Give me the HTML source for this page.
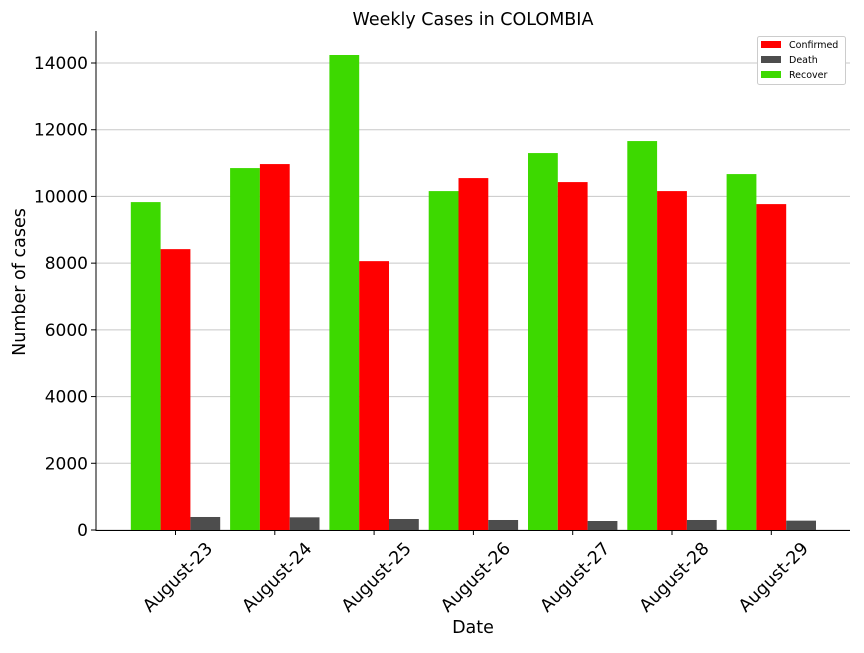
<!DOCTYPE html>
<html><head><meta charset="utf-8"><style>
body{margin:0;background:#fff}
svg text{font-family:"DejaVu Sans","Liberation Sans",sans-serif}
</style></head><body>
<svg id="chart" width="864" height="648" xmlns="http://www.w3.org/2000/svg">
<rect width="864" height="648" fill="#fff"/>
<g id="grid"></g><g id="bars"></g><g id="axes"></g>
<text x="473" y="25" text-anchor="middle" font-size="17.5">Weekly Cases in COLOMBIA</text>
<text x="473" y="633" text-anchor="middle" font-size="17.5">Date</text>
<text transform="translate(25,282) rotate(-90)" text-anchor="middle" font-size="17.5">Number of cases</text>
<g>
<rect x="757.5" y="36.5" width="88" height="48" rx="2" fill="#fff" stroke="#ccc"/>
<rect x="761" y="41" width="20" height="7" fill="#ff0000"/>
<text x="789" y="48" font-size="9.5">Confirmed</text>
<rect x="761" y="56" width="20" height="7" fill="#4d4d4d"/>
<text x="789" y="63" font-size="9.5">Death</text>
<rect x="761" y="71" width="20" height="7" fill="#3dd900"/>
<text x="789" y="78" font-size="9.5">Recover</text>
</g>
</svg>
<script>
const categories=["August-23","August-24","August-25","August-26","August-27","August-28","August-29"];
const recovered=[9830,10850,14240,10160,11300,11660,10670];
const confirmed=[8420,10970,8060,10550,10430,10160,9770];
const deaths=[390,380,330,300,270,300,280];
const yTicks=[0,2000,4000,6000,8000,10000,12000,14000];
const NS="http://www.w3.org/2000/svg";
const y0=530, yScale=(530-63)/14000;
const y=v=>y0-v*yScale;
const x0=175.5, step=99.3, bw=29.8;
const xc=i=>x0+i*step;
function mk(tag,attrs,parent){const e=document.createElementNS(NS,tag);for(const k in attrs)e.setAttribute(k,attrs[k]);parent.appendChild(e);return e;}
const grid=document.getElementById('grid'),bars=document.getElementById('bars'),axes=document.getElementById('axes');
yTicks.forEach(t=>{
 const l=mk('line',{x1:96,x2:850,y1:y(t),y2:y(t),stroke:'#c8c8c8','stroke-width':1},grid);
 
 
 mk('line',{x1:91,x2:96,y1:y(t),y2:y(t),stroke:'#000'},axes);
 const tx=mk('text',{x:88,y:y(t)+6,'text-anchor':'end','font-size':17},axes);
 tx.textContent=t;
 
 
});
const series=[[recovered,'#3dd900',-1,'recover'],[confirmed,'#ff0000',0,'confirmed'],[deaths,'#4d4d4d',1,'death']];
categories.forEach((c,i)=>{
 series.forEach(([arr,col,off,nm])=>{
  const r=mk('rect',{x:xc(i)+off*bw-bw/2,y:y(arr[i]),width:bw,height:arr[i]*yScale,fill:col},bars);
  
  
 });
 mk('line',{x1:xc(i),x2:xc(i),y1:530,y2:535,stroke:'#000'},axes);
 const tx=mk('text',{x:0,y:6,'text-anchor':'middle','font-size':17.5,transform:`translate(${xc(i)+2},${577}) rotate(-45)`},axes);
 tx.textContent=c;
 
 
});
mk('line',{x1:96,x2:96,y1:31,y2:530.5,stroke:'#000'},axes);
mk('line',{x1:95.5,x2:850,y1:530.5,y2:530.5,stroke:'#000'},axes);
</script>
</body></html>
